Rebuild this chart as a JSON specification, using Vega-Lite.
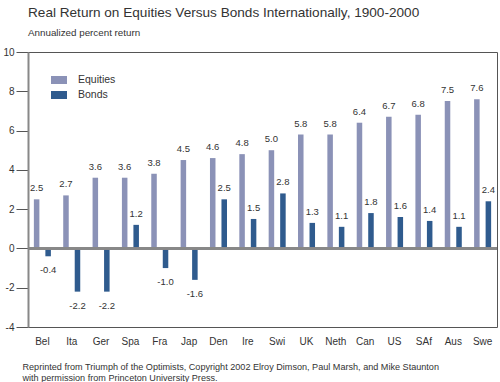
{
  "$schema": "https://vega.github.io/schema/vega-lite/v6.json",
  "width": 469,
  "height": 275,
  "autosize": {"type": "none"},
  "padding": {"left": 28, "top": 52, "right": 3, "bottom": 55},
  "background": "white",
  "config": {
    "font": "Liberation Sans",
    "view": {"stroke": "#555", "strokeWidth": 1},
    "locale": {
      "number": {
        "decimal": ".",
        "thousands": ",",
        "grouping": [3],
        "currency": ["$", ""],
        "minus": "-"
      }
    }
  },
  "title": {
    "text": "Real Return on Equities Versus Bonds Internationally, 1900-2000",
    "subtitle": "Annualized percent return",
    "anchor": "start",
    "frame": "group",
    "fontSize": 13.6,
    "fontWeight": "normal",
    "color": "#333",
    "subtitleFontSize": 9.8,
    "subtitleColor": "#333",
    "subtitlePadding": 9,
    "offset": 9
  },
  "data": {
    "values": [
      {"country": "Bel", "type": "Equities", "value": 2.5},
      {"country": "Bel", "type": "Bonds", "value": -0.4},
      {"country": "Ita", "type": "Equities", "value": 2.7},
      {"country": "Ita", "type": "Bonds", "value": -2.2},
      {"country": "Ger", "type": "Equities", "value": 3.6},
      {"country": "Ger", "type": "Bonds", "value": -2.2},
      {"country": "Spa", "type": "Equities", "value": 3.6},
      {"country": "Spa", "type": "Bonds", "value": 1.2},
      {"country": "Fra", "type": "Equities", "value": 3.8},
      {"country": "Fra", "type": "Bonds", "value": -1.0},
      {"country": "Jap", "type": "Equities", "value": 4.5},
      {"country": "Jap", "type": "Bonds", "value": -1.6},
      {"country": "Den", "type": "Equities", "value": 4.6},
      {"country": "Den", "type": "Bonds", "value": 2.5},
      {"country": "Ire", "type": "Equities", "value": 4.8},
      {"country": "Ire", "type": "Bonds", "value": 1.5},
      {"country": "Swi", "type": "Equities", "value": 5.0},
      {"country": "Swi", "type": "Bonds", "value": 2.8},
      {"country": "UK", "type": "Equities", "value": 5.8},
      {"country": "UK", "type": "Bonds", "value": 1.3},
      {"country": "Neth", "type": "Equities", "value": 5.8},
      {"country": "Neth", "type": "Bonds", "value": 1.1},
      {"country": "Can", "type": "Equities", "value": 6.4},
      {"country": "Can", "type": "Bonds", "value": 1.8},
      {"country": "US", "type": "Equities", "value": 6.7},
      {"country": "US", "type": "Bonds", "value": 1.6},
      {"country": "SAf", "type": "Equities", "value": 6.8},
      {"country": "SAf", "type": "Bonds", "value": 1.4},
      {"country": "Aus", "type": "Equities", "value": 7.5},
      {"country": "Aus", "type": "Bonds", "value": 1.1},
      {"country": "Swe", "type": "Equities", "value": 7.6},
      {"country": "Swe", "type": "Bonds", "value": 2.4}
    ]
  },
  "encoding": {
    "x": {
      "field": "country",
      "type": "nominal",
      "sort": null,
      "scale": {"paddingInner": 0.42, "paddingOuter": 0.2},
      "axis": {
        "orient": "bottom",
        "domain": false,
        "ticks": false,
        "labelAngle": 0,
        "labelPadding": 9,
        "labelDx": 3,
        "labelFontSize": 10,
        "labelColor": "#333",
        "title": [
          "Reprinted from Triumph of the Optimists, Copyright 2002 Elroy Dimson, Paul Marsh, and Mike Staunton",
          "with permission from Princeton University Press."
        ],
        "titleFontSize": 9.1,
        "titleFontWeight": "normal",
        "titleColor": "#333",
        "titleAnchor": "start",
        "titleAlign": "left",
        "titleBaseline": "top",
        "titleLineHeight": 11,
        "titleX": -6,
        "titleY": 35
      }
    },
    "xOffset": {
      "field": "type",
      "type": "nominal",
      "sort": ["Equities", "Bonds"],
      "scale": {"paddingInner": 0.52}
    },
    "y": {
      "field": "value",
      "type": "quantitative",
      "scale": {"domain": [-4, 10], "nice": false, "zero": false},
      "axis": {
        "values": [-4, -2, 0, 2, 4, 6, 8, 10],
        "grid": false,
        "title": null,
        "domainColor": "#888",
        "domainWidth": 2,
        "tickColor": "#555",
        "tickSize": 12,
        "labelPadding": 2,
        "labelFontSize": 10,
        "labelColor": "#333"
      }
    }
  },
  "layer": [
    {
      "mark": {"type": "bar"},
      "encoding": {
        "color": {
          "field": "type",
          "type": "nominal",
          "sort": ["Equities", "Bonds"],
          "scale": {"domain": ["Equities", "Bonds"], "range": ["#8b92b7", "#2f5b8e"]},
          "legend": {
            "orient": "none",
            "legendX": 23,
            "legendY": 20,
            "title": null,
            "padding": 0,
            "symbolType": "M-1,-0.5H1V0.5H-1Z",
            "symbolSize": 256,
            "symbolStrokeWidth": 0,
            "labelFontSize": 10.5,
            "labelColor": "#333",
            "labelOffset": 11,
            "rowPadding": 1
          }
        }
      }
    },
    {
      "mark": {"type": "rule", "color": "#888", "strokeWidth": 1.5},
      "encoding": {"y": {"datum": 0}, "x": null, "xOffset": null}
    },
    {
      "transform": [{"filter": "datum.value >= 0"}],
      "mark": {"type": "text", "baseline": "bottom", "dy": -6, "fontSize": 9.5, "color": "#333"},
      "encoding": {"text": {"field": "value", "type": "quantitative", "format": ".1f"}}
    },
    {
      "transform": [{"filter": "datum.value < 0"}],
      "mark": {"type": "text", "baseline": "top", "dy": 9, "fontSize": 9.5, "color": "#333"},
      "encoding": {"text": {"field": "value", "type": "quantitative", "format": ".1f"}}
    }
  ]
}
